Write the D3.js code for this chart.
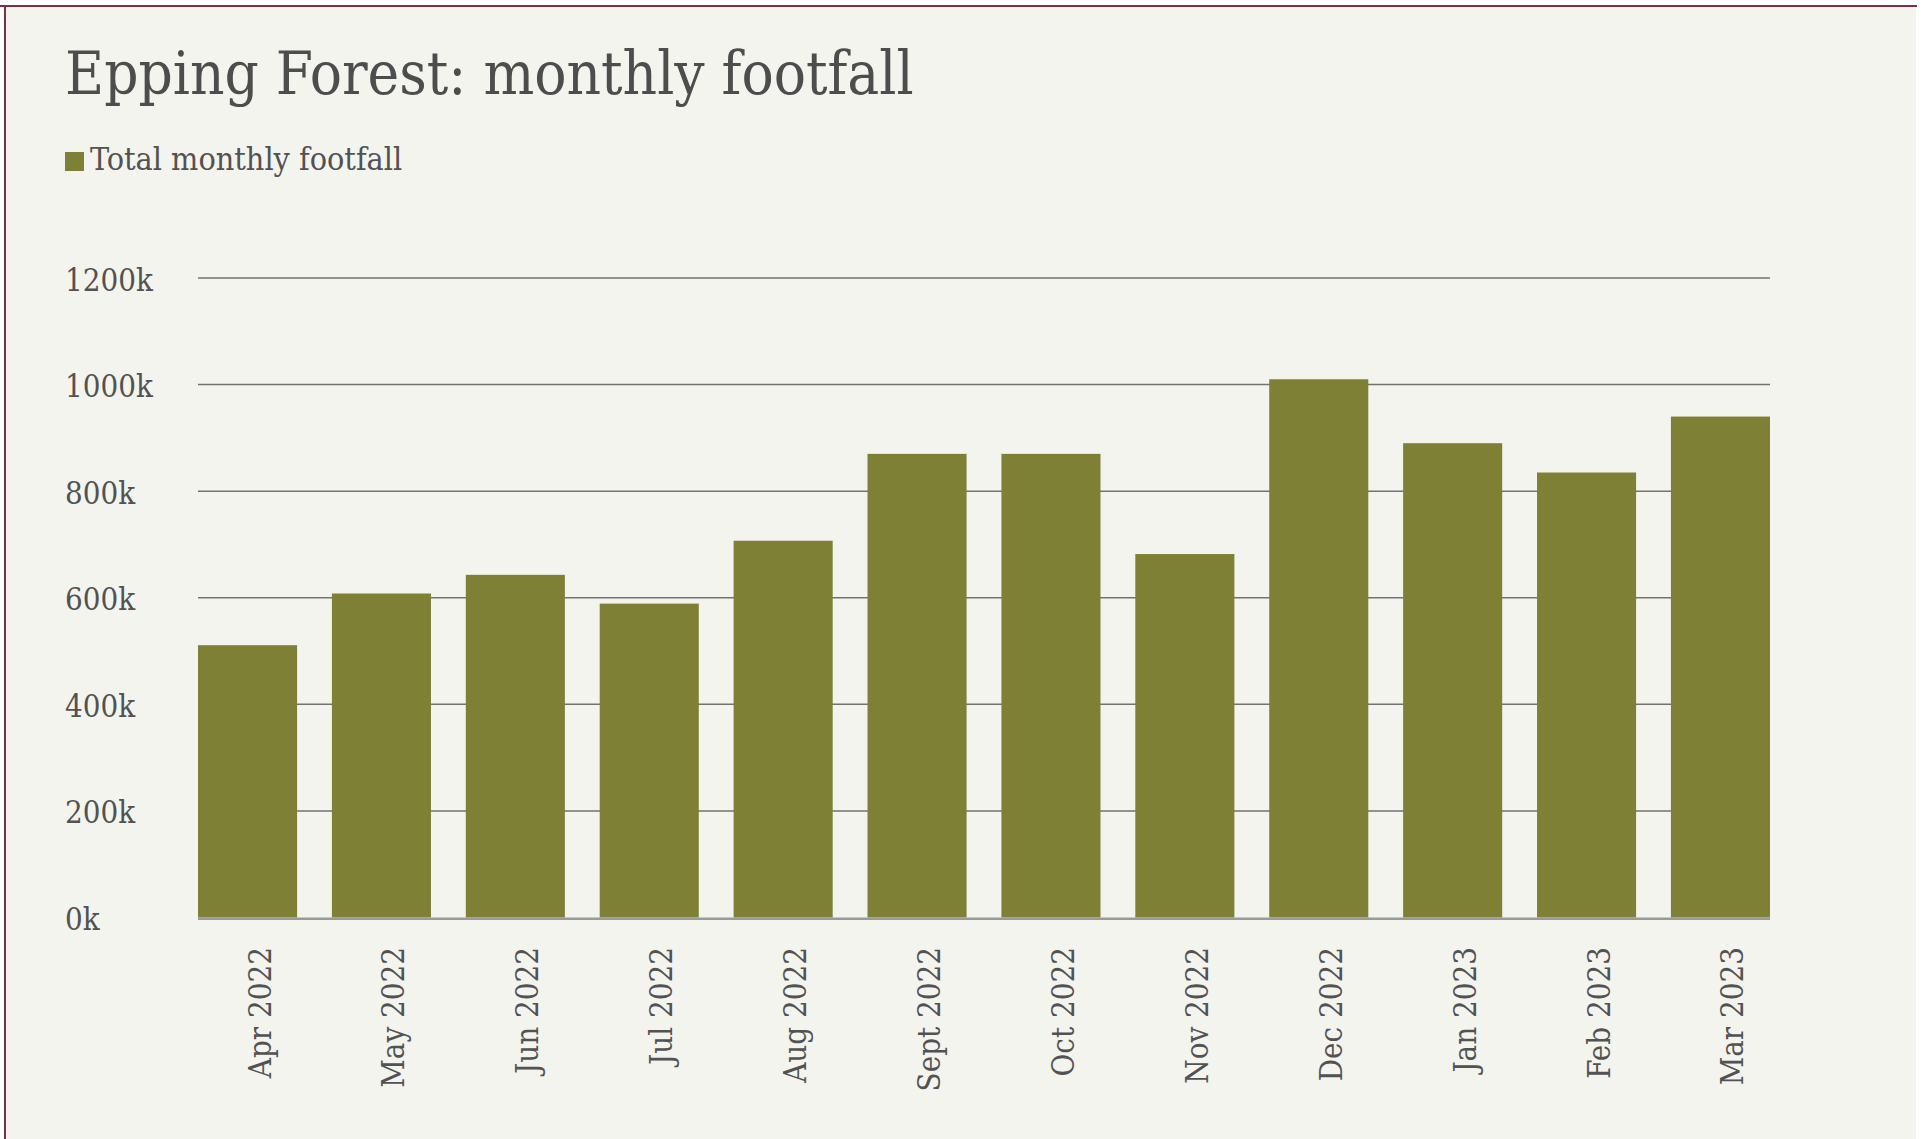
<!DOCTYPE html>
<html>
<head>
<meta charset="utf-8">
<script src="https://cdn.jsdelivr.net/npm/d3@7/dist/d3.min.js"></script>
<style>
  body { margin: 0; background: #fff; }
  svg text { font-family: "DejaVu Serif Condensed", "DejaVu Serif", serif; font-stretch: condensed; fill: #525252; }
</style>
</head>
<body>
<svg id="chart"></svg>
<script>
// data
const months = ["Apr 2022", "May 2022", "Jun 2022", "Jul 2022", "Aug 2022", "Sept 2022",
                "Oct 2022", "Nov 2022", "Dec 2022", "Jan 2023", "Feb 2023", "Mar 2023"];
const footfall = [511000, 608000, 643000, 589000, 707000, 870000,
                  870000, 682000, 1010000, 890000, 835000, 940000];
const yTicks = [0, 200000, 400000, 600000, 800000, 1000000, 1200000];
const seriesName = "Total monthly footfall";
const title = "Epping Forest: monthly footfall";

let width = 1931, height = 1139;
let margin = ({top: 278, right: 161, bottom: 221.5, left: 198});
let barColor = "#7e8035";

const svg = d3.select("#chart")
    .attr("width", width)
    .attr("height", height);

// panel + frame
svg.append("rect")
   .attr("x", 6).attr("y", 7)
   .attr("width", 1910).attr("height", height - 7)
   .attr("fill", "#f4f4ef");
svg.append("line")
   .attr("x1", 0).attr("x2", 1917).attr("y1", 6).attr("y2", 6)
   .attr("stroke", "#7d2f48").attr("stroke-width", 2);
svg.append("line")
   .attr("x1", 5).attr("x2", 5).attr("y1", 5).attr("y2", height)
   .attr("stroke", "#7d2f48").attr("stroke-width", 2);

// title + legend
svg.append("text")
   .attr("x", 65).attr("y", 94)
   .attr("font-size", 59.6)
   .style("fill", "#4d4d4d")
   .text(title);

svg.append("rect")
   .attr("x", 65).attr("y", 152)
   .attr("width", 19).attr("height", 19)
   .attr("fill", barColor);
svg.append("text")
   .attr("x", 90).attr("y", 169.5)
   .attr("font-size", 32)
   .text(seriesName);

// scales
let x = d3.scaleBand()
          .domain(months)
          .range([margin.left, width - margin.right])
          .paddingInner(0.26)
          .paddingOuter(0);

let y = d3.scaleLinear()
          .domain([0, 1200000])
          .range([height - margin.bottom, margin.top]);

// gridlines
svg.append("g")
   .selectAll("line")
   .data(yTicks.filter(d => d > 0))
   .join("line")
   .attr("x1", margin.left).attr("x2", width - margin.right)
   .attr("y1", d => y(d)).attr("y2", d => y(d))
   .attr("stroke", "#727272")
   .attr("stroke-width", 1.5);

// y labels
svg.append("g")
   .selectAll("text")
   .data(yTicks)
   .join("text")
   .attr("x", 65)
   .attr("y", d => y(d) + 12.5)
   .attr("font-size", 31)
   .text(d => d3.format("d")(d / 1000) + "k");

// bars
svg.append("g")
   .selectAll("rect")
   .data(footfall)
   .join("rect")
   .attr("x", (d, i) => x(months[i]))
   .attr("y", d => y(d))
   .attr("width", x.bandwidth())
   .attr("height", d => y(0) - y(d))
   .attr("fill", barColor);

// baseline
svg.append("line")
   .attr("x1", margin.left).attr("x2", width - margin.right)
   .attr("y1", y(0) + 1.2).attr("y2", y(0) + 1.2)
   .attr("stroke", "#9a9a9a")
   .attr("stroke-width", 2.5);

// x labels
svg.append("g")
   .selectAll("text")
   .data(months)
   .join("text")
   .attr("transform", d => `translate(${x(d) + x.bandwidth() / 2 + 23},947) rotate(-90)`)
   .attr("text-anchor", "end")
   .attr("font-size", 31)
   .text(d => d);
</script>
</body>
</html>
